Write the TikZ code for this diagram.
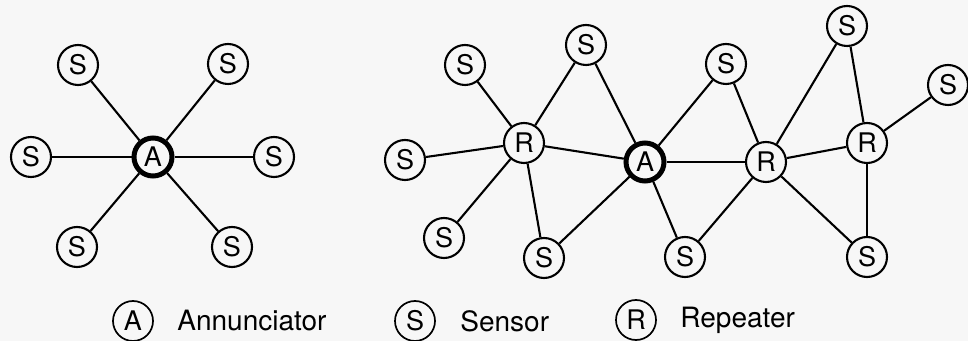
\documentclass[tikz,border=0pt]{standalone}
\usepackage{fontspec}
\setmainfont{TeX Gyre Heros}
\definecolor{bgc}{RGB}{247,247,247}
\begin{document}
\begin{tikzpicture}[x=0.5pt,y=-0.5pt,
  nd/.style={circle,draw,line width=1.05pt,minimum size=20pt,inner sep=0pt,fill=bgc,font=\fontsize{13.5}{13.5}\selectfont},
  ann/.style={nd,line width=2.5pt,minimum size=19pt},
  leg/.style={nd,line width=0.85pt},
  lbl/.style={anchor=west,inner sep=0pt,font=\fontsize{14}{14}\selectfont},
  edge/.style={line width=1.05pt}]
\fill[bgc] (0,0) rectangle (968,341);
\useasboundingbox (0,0) rectangle (968,341);
% left star
\node[ann] (a0) at (153,157) {A};
\node[nd] (s1) at (78,65) {S};
\node[nd] (s2) at (228,64) {S};
\node[nd] (s3) at (31,157) {S};
\node[nd] (s4) at (274,157) {S};
\node[nd] (s5) at (77,247) {S};
\node[nd] (s6) at (232,247) {S};
\foreach \s in {s1,s2,s3,s4,s5,s6} \draw[edge] (a0) -- (\s);
% right network
\node[nd] (r1) at (524,143) {R};
\node[ann] (a1) at (645,162) {A};
\node[nd] (r2) at (766,162) {R};
\node[nd] (r3) at (867,143) {R};
\node[nd] (t1) at (465,65) {S};
\node[nd] (t2) at (405,160) {S};
\node[nd] (t3) at (444,238) {S};
\node[nd] (t4) at (544,258) {S};
\node[nd] (t5) at (586,45) {S};
\node[nd] (t6) at (726,64) {S};
\node[nd] (t7) at (685,257) {S};
\node[nd] (t8) at (847,26) {S};
\node[nd] (t9) at (948,85) {S};
\node[nd] (t10) at (867,257) {S};
\foreach \s in {t1,t2,t3,t4,t5,a1} \draw[edge] (r1) -- (\s);
\foreach \s in {t5,t6,t4,t7,r2} \draw[edge] (a1) -- (\s);
\foreach \s in {t6,t8,t7,t10,r3} \draw[edge] (r2) -- (\s);
\foreach \s in {t8,t9,t10} \draw[edge] (r3) -- (\s);
% legend
\node[leg] (la) at (133,321) {A};
\node[lbl] (lat) at (177,321) {Annunciator};
\node[leg] (ls) at (415,321) {S};
\node[lbl] (lst) at (460,321) {Sensor};
\node[leg] (lr) at (636,320) {R};
\node[lbl] (lrt) at (680,320) {Repeater};
\end{tikzpicture}
\end{document}
